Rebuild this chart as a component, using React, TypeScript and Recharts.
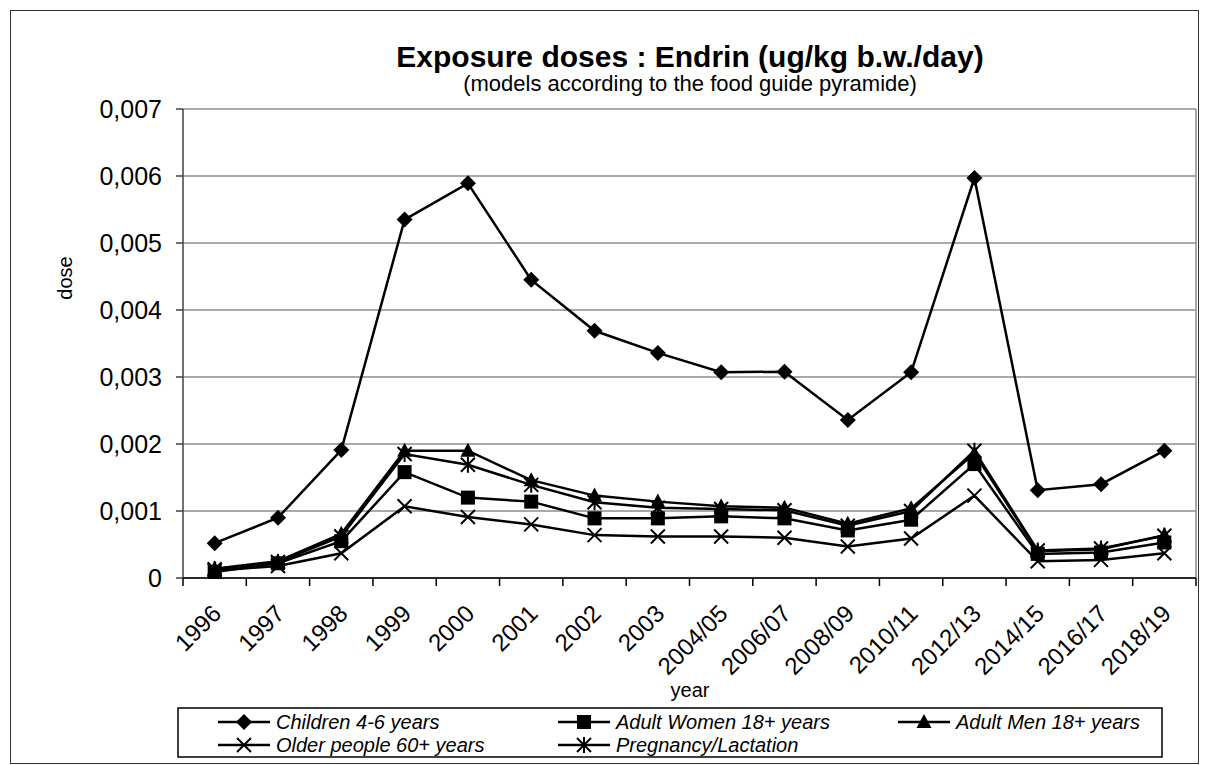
import { LineChart, Line, XAxis, YAxis, CartesianGrid } from 'recharts';

const years = [
  '1996', '1997', '1998', '1999', '2000', '2001', '2002', '2003',
  '2004/05', '2006/07', '2008/09', '2010/11', '2012/13', '2014/15', '2016/17', '2018/19',
];

const children = [0.00052, 0.0009, 0.00191, 0.00535, 0.00589, 0.00445, 0.00369, 0.00336, 0.00307, 0.00308, 0.00236, 0.00307, 0.00597, 0.00131, 0.0014, 0.0019];
const adultWomen = [0.00009, 0.00022, 0.00055, 0.00158, 0.0012, 0.00114, 0.00089, 0.00089, 0.00092, 0.00089, 0.00071, 0.00087, 0.0017, 0.00036, 0.00038, 0.00053];
const adultMen = [0.00014, 0.00025, 0.00066, 0.0019, 0.0019, 0.00146, 0.00123, 0.00114, 0.00107, 0.00105, 0.00081, 0.00104, 0.00186, 0.0004, 0.00043, 0.00064];
const olderPeople = [0.00011, 0.00018, 0.00037, 0.00107, 0.00091, 0.0008, 0.00064, 0.00062, 0.00062, 0.0006, 0.00047, 0.00059, 0.00123, 0.00025, 0.00027, 0.00037];
const pregnancy = [0.00013, 0.00024, 0.00062, 0.00185, 0.00169, 0.00139, 0.00113, 0.00105, 0.00103, 0.00101, 0.00078, 0.001, 0.0019, 0.00041, 0.00044, 0.00063];

const doseTicks = [0, 0.001, 0.002, 0.003, 0.004, 0.005, 0.006, 0.007];

type Shape = 'diamond' | 'square' | 'triangle' | 'cross' | 'star';

const series: { key: string; name: string; shape: Shape; values: number[] }[] = [
  { key: 'children', name: 'Children 4-6 years', shape: 'diamond', values: children },
  { key: 'women', name: 'Adult Women 18+ years', shape: 'square', values: adultWomen },
  { key: 'men', name: 'Adult Men 18+ years', shape: 'triangle', values: adultMen },
  { key: 'older', name: 'Older people 60+ years', shape: 'cross', values: olderPeople },
  { key: 'pregnancy', name: 'Pregnancy/Lactation', shape: 'star', values: pregnancy },
];

const data = years.map((year, i) => {
  const row: Record<string, string | number> = { year };
  series.forEach((s) => {
    row[s.key] = s.values[i];
  });
  return row;
});

const FONT = '"Liberation Sans", Arial, sans-serif';

function Marker({ shape, cx, cy }: { shape: Shape; cx: number; cy: number }) {
  switch (shape) {
    case 'diamond':
      return <path d={`M${cx},${cy - 8}L${cx + 8},${cy}L${cx},${cy + 8}L${cx - 8},${cy}Z`} fill="#000" />;
    case 'square':
      return <rect x={cx - 7} y={cy - 7} width={14} height={14} fill="#000" />;
    case 'triangle':
      return <path d={`M${cx},${cy - 8}L${cx + 7.5},${cy + 6}L${cx - 7.5},${cy + 6}Z`} fill="#000" />;
    case 'cross':
      return (
        <path
          d={`M${cx - 7},${cy - 7}L${cx + 7},${cy + 7}M${cx + 7},${cy - 7}L${cx - 7},${cy + 7}`}
          stroke="#000"
          strokeWidth={2}
          fill="none"
        />
      );
    default:
      return (
        <path
          d={`M${cx - 7},${cy - 7}L${cx + 7},${cy + 7}M${cx + 7},${cy - 7}L${cx - 7},${cy + 7}M${cx},${cy - 8}L${cx},${cy + 8}`}
          stroke="#000"
          strokeWidth={2}
          fill="none"
        />
      );
  }
}

// category label rotated 45°, plus tick marks on the band edges
function YearTick(props: any) {
  const { x, y, payload, index, visibleTicksCount } = props;
  const half = payload.offset ?? 0;
  const tx = x + 8;
  const ty = y + 37;
  return (
    <g>
      <line x1={x - half} y1={y} x2={x - half} y2={y + 8} stroke="#000" strokeWidth={1.5} />
      {index === visibleTicksCount - 1 && (
        <line x1={x + half} y1={y} x2={x + half} y2={y + 8} stroke="#000" strokeWidth={1.5} />
      )}
      <text
        x={tx}
        y={ty}
        transform={`rotate(-45 ${tx} ${ty})`}
        textAnchor="end"
        fontSize={24}
        fontFamily={FONT}
        fill="#000"
      >
        {payload.value}
      </text>
    </g>
  );
}

const formatDose = (v: number) => (v === 0 ? '0' : v.toFixed(3).replace('.', ','));

function Annotations() {
  const cols = [218, 558, 898];
  const rows = [722, 745];
  return (
    <svg
      width={1209}
      height={765}
      style={{ position: 'absolute', left: 0, top: 0, pointerEvents: 'none' }}
    >
      <text x={690} y={67} textAnchor="middle" fontSize={30} fontWeight="bold" fontFamily={FONT}>
        Exposure doses : Endrin (ug/kg b.w./day)
      </text>
      <text x={690} y={91} textAnchor="middle" fontSize={22} fontFamily={FONT}>
        (models according to the food guide pyramide)
      </text>
      <text
        x={72}
        y={278}
        transform="rotate(-90 72 278)"
        textAnchor="middle"
        fontSize={20}
        fontFamily={FONT}
      >
        dose
      </text>
      <text x={690} y={697} textAnchor="middle" fontSize={20} fontFamily={FONT}>
        year
      </text>
      <rect x={178} y={708} width={984} height={49} fill="none" stroke="#000" strokeWidth={1.5} />
      {series.map((s, i) => {
        const lx = cols[i % 3];
        const ly = rows[Math.floor(i / 3)];
        return (
          <g key={s.key}>
            <line x1={lx} y1={ly} x2={lx + 52} y2={ly} stroke="#000" strokeWidth={2.5} />
            <Marker shape={s.shape} cx={lx + 26} cy={ly} />
            <text x={lx + 58} y={ly + 7} fontSize={20} fontStyle="italic" fontFamily={FONT}>
              {s.name}
            </text>
          </g>
        );
      })}
    </svg>
  );
}

export default function App() {
  return (
    <div style={{ position: 'absolute', left: 0, top: 0, width: 1209, height: 765, background: '#fff' }}>
      <div
        style={{
          position: 'absolute',
          left: 10,
          top: 10,
          width: 1187,
          height: 752,
          border: '1.5px solid #333',
        }}
      />
      <LineChart
        width={1209}
        height={765}
        data={data}
        margin={{ top: 109, right: 13, left: 83, bottom: 107 }}
        style={{ position: 'absolute', left: 0, top: 0 }}
      >
        <CartesianGrid
          vertical
          stroke="#8c8c8c"
          strokeWidth={1.5}
          verticalCoordinatesGenerator={({ offset }: any) => [offset.left + offset.width]}
        />
        <XAxis
          dataKey="year"
          scale="band"
          interval={0}
          height={80}
          tickSize={0}
          tickMargin={0}
          tickLine={false}
          axisLine={{ stroke: '#000', strokeWidth: 1.5 }}
          tick={<YearTick />}
        />
        <YAxis
          width={100}
          domain={[0, 0.007]}
          ticks={doseTicks}
          tickFormatter={formatDose}
          tickSize={7}
          tickMargin={14}
          axisLine={{ stroke: '#404040', strokeWidth: 1.5 }}
          tickLine={{ stroke: '#404040', strokeWidth: 1.5 }}
          tick={{ fill: '#000', fontSize: 25, fontFamily: FONT }}
        />
        {series.map((s) => (
          <Line
            key={s.key}
            type="linear"
            dataKey={s.key}
            name={s.name}
            stroke="#000"
            strokeWidth={2.5}
            isAnimationActive={false}
            dot={(p: any) => <Marker key={`${s.key}-${p.index}`} shape={s.shape} cx={p.cx} cy={p.cy} />}
            activeDot={false}
          />
        ))}
      </LineChart>
      <Annotations />
    </div>
  );
}
